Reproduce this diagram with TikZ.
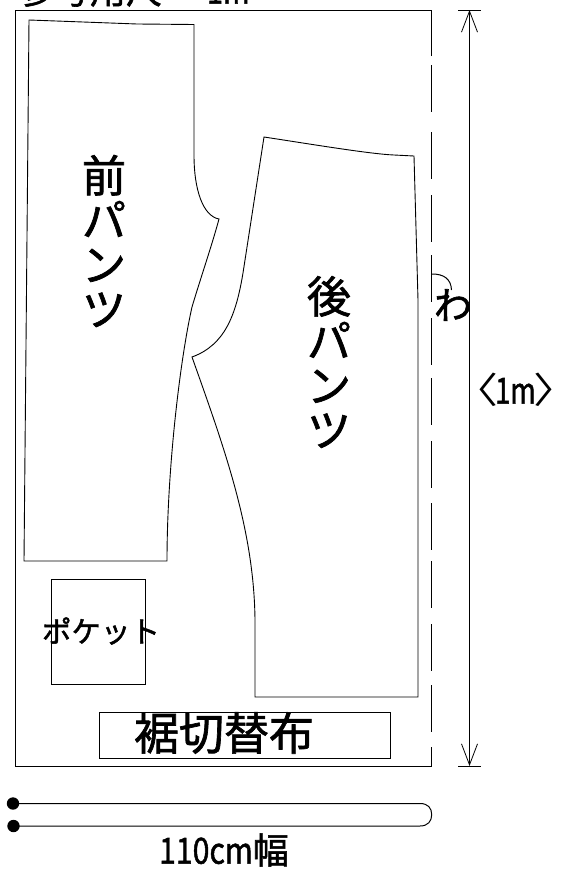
\documentclass[tikz,border=0pt]{standalone}
\usepackage{fontspec}
\usetikzlibrary{arrows.meta}
\setmainfont[FakeBold=1.5]{Noto Sans CJK JP}
\newfontfamily\lightface{Noto Sans CJK JP}
\newcommand{\fs}[1]{\fontsize{#1}{#1}\selectfont}
\tikzset{
  outline/.style={draw=black,line width=0.9pt},
  thick line/.style={draw=black,line width=1pt},
  label/.style={inner sep=0pt,outer sep=0pt,text=black},
  stacked/.style={label,align=center,font=\fontsize{44}{44.5}\selectfont},
  barbed/.style={draw=black,line width=0.9pt,{Straight Barb[length=21pt,width=16pt,line width=0.8pt]}-{Straight Barb[length=21pt,width=16pt,line width=0.8pt]}}
}
\begin{document}
\begin{tikzpicture}[x=1pt,y=-1pt]
\clip (0,0) rectangle (568,870);
% cloth outline
\draw[outline] (431.5,56) -- (431.5,10) -- (15.5,10) -- (15.5,766) -- (431.5,766) -- (431.5,747);
\foreach \a in {65,132,195,255,318,378,441,503,561,624,685}
  \draw[thick line] (431.5,\a) -- (431.5,\a+47);
% front panel
\draw[outline,line join=miter] (29,20) -- (137,24) -- (194,24.5) -- (194,155)
  .. controls (194,190) and (203,216) .. (219,219)
  .. controls (212,245) and (200,280) .. (192,307)
  .. controls (180,360) and (167,470) .. (167,561)
  -- (24,561) -- cycle;
% back panel
\draw[outline,line join=miter] (264,137) .. controls (310,144) and (370,154) .. (394,155) -- (414,156)
  -- (418,300) -- (418,697) -- (255,697) -- (255,620)
  .. controls (254,530) and (225,450) .. (192,357)
  .. controls (225,345) and (236,315) .. (243,273)
  -- cycle;
% pocket and hem
\node[outline,inner sep=0pt,minimum width=94pt,minimum height=105pt] (pocket) at (98,631.5) {};
\node[outline,inner sep=0pt,minimum width=291pt,minimum height=46pt] (hem) at (244.5,735) {};
% labels
\node[label,font=\fs{36},anchor=west] (title) at (18,-10) {参考用尺\hspace{45pt}\scalebox{0.8}[1]{1m}};
\node[stacked] (front) at (104,241) {前\\パ\\ン\\ツ};
\node[stacked] (back) at (329,362) {後\\パ\\ン\\ツ};
\node[label,font=\fs{29.5}] (pockettext) at (101,631) {ポケット};
\node[label,font=\fs{45}] (hemtext) at (224,733) {裾切替布};
\node[label,font=\fs{38}] (wa) at (453,305) {わ};
\draw[line width=1pt] (432,274) .. controls (444,274) and (451,279) .. (451.5,290);
\node[label,font=\fs{36}] (width) at (224,850) {\scalebox{0.84}[1]{110cm}幅};
\node[label,font=\fs{36}] (height) at (516,390) {\makebox[0pt][c]{\lightface\scalebox{1.25}[1]{〈}}\hspace{19pt}\scalebox{0.76}[1]{1m}\hspace{20pt}\makebox[0pt][c]{\lightface\scalebox{1.25}[1]{〉}}};
% dimension
\coordinate (dimtop) at (469.5,10);
\coordinate (dimbot) at (469.5,766);
\draw[barbed] (dimtop) -- (dimbot);
\draw[outline] (458,10) -- (481,10);
\draw[outline] (458,766) -- (481,766);
% selvedge
\coordinate (sa) at (13,803.5);
\coordinate (sb) at (13.5,826);
\fill (sa) circle (6.2pt);
\fill (sb) circle (6.2pt);
\draw[thick line] (sa) -- (420,803.5) .. controls (428,803.5) and (431.7,808) .. (431.7,814.7)
  .. controls (431.7,821) and (428,826) .. (420,826) -- (sb);
\end{tikzpicture}
\end{document}
